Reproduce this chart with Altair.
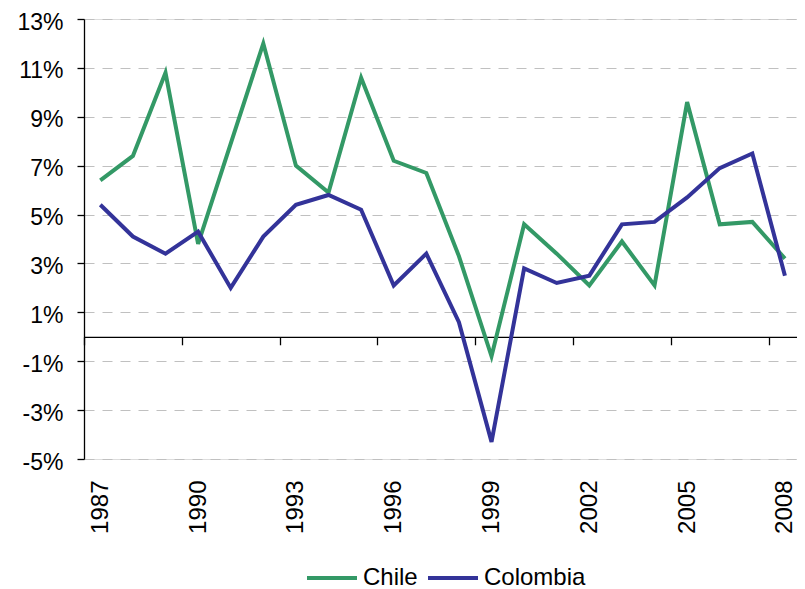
import altair as alt
import pandas as pd

years = list(range(1987, 2009))
chile = [6.4, 7.4, 10.8, 3.8, 7.9, 12.0, 7.0, 5.9, 10.6, 7.2, 6.7, 3.3, -0.8,
         4.6, 3.4, 2.1, 3.9, 2.1, 9.6, 4.6, 4.7, 3.2]
colombia = [5.4, 4.1, 3.4, 4.3, 2.0, 4.1, 5.4, 5.8, 5.2, 2.1, 3.4, 0.6, -4.3,
            2.8, 2.2, 2.5, 4.6, 4.7, 5.7, 6.9, 7.5, 2.5]
series = ["Chile", "Colombia"]
colors = ["#339966", "#333399"]
y_ticks = [-5, -3, -1, 1, 3, 5, 7, 9, 11, 13]
x_labels = [1987, 1990, 1993, 1996, 1999, 2002, 2005, 2008]
x_ticks = [y - 0.5 for y in x_labels]

rows = []
for name, vals in zip(series, [chile, colombia]):
    for yr, v in zip(years, vals):
        rows.append({"year": yr, "value": v, "series": name})
df = pd.DataFrame(rows)

W, H = 713, 440
y_min, y_max = -5, 13
zero_offset = -H * (0 - y_min) / (y_max - y_min)

x_scale = alt.Scale(domain=[1986.5, 2008.37], nice=False, zero=False)
y_scale = alt.Scale(domain=[y_min, y_max], nice=False, zero=False)

lines = alt.Chart(df).mark_line(strokeWidth=4).encode(
    x=alt.X("year:Q", scale=x_scale,
            axis=alt.Axis(orient="bottom", values=x_labels, format="d",
                          labelAngle=270, labelPadding=21, labelFontSize=24,
                          title=None, domain=False, ticks=False, grid=False,
                          labelColor="black")),
    y=alt.Y("value:Q", scale=y_scale,
            axis=alt.Axis(values=y_ticks, labelExpr="datum.value + '%'",
                          title=None, grid=True, gridDash=[10, 8],
                          gridColor="#c0c0c0", gridWidth=1,
                          domainColor="black", domainWidth=1.3,
                          tickColor="black", tickSize=7, tickWidth=1.3,
                          labelPadding=14, labelFontSize=23, labelOffset=3,
                          labelColor="black")),
    color=alt.Color("series:N", scale=alt.Scale(domain=series, range=colors),
                    legend=alt.Legend(orient="none", legendX=221, legendY=532,
                                      direction="horizontal", title=None,
                                      symbolType="stroke", symbolSize=2500,
                                      symbolStrokeWidth=4, labelFontSize=24,
                                      labelColor="black", columnPadding=2,
                                      labelOffset=4)),
)

zero_axis = alt.Chart(df).mark_line(opacity=0).encode(
    x=alt.X("year:Q", scale=x_scale,
            axis=alt.Axis(orient="bottom", offset=zero_offset, values=x_ticks,
                          labels=False, ticks=True, tickSize=8,
                          tickColor="black", tickWidth=1.3, domain=True,
                          domainColor="black", domainWidth=1.3, grid=False,
                          title=None)),
    y=alt.Y("value:Q", scale=y_scale),
    detail="series:N",
)

chart = alt.layer(zero_axis, lines).resolve_scale(x="independent").properties(
    width=W, height=H,
    autosize=alt.AutoSizeParams(type="none"),
    padding={"left": 76, "top": 11, "right": 0, "bottom": 130},
).configure_view(stroke=None).configure(font="Liberation Sans")

chart.save("out.html", embed_options={"renderer": "svg", "actions": False})
